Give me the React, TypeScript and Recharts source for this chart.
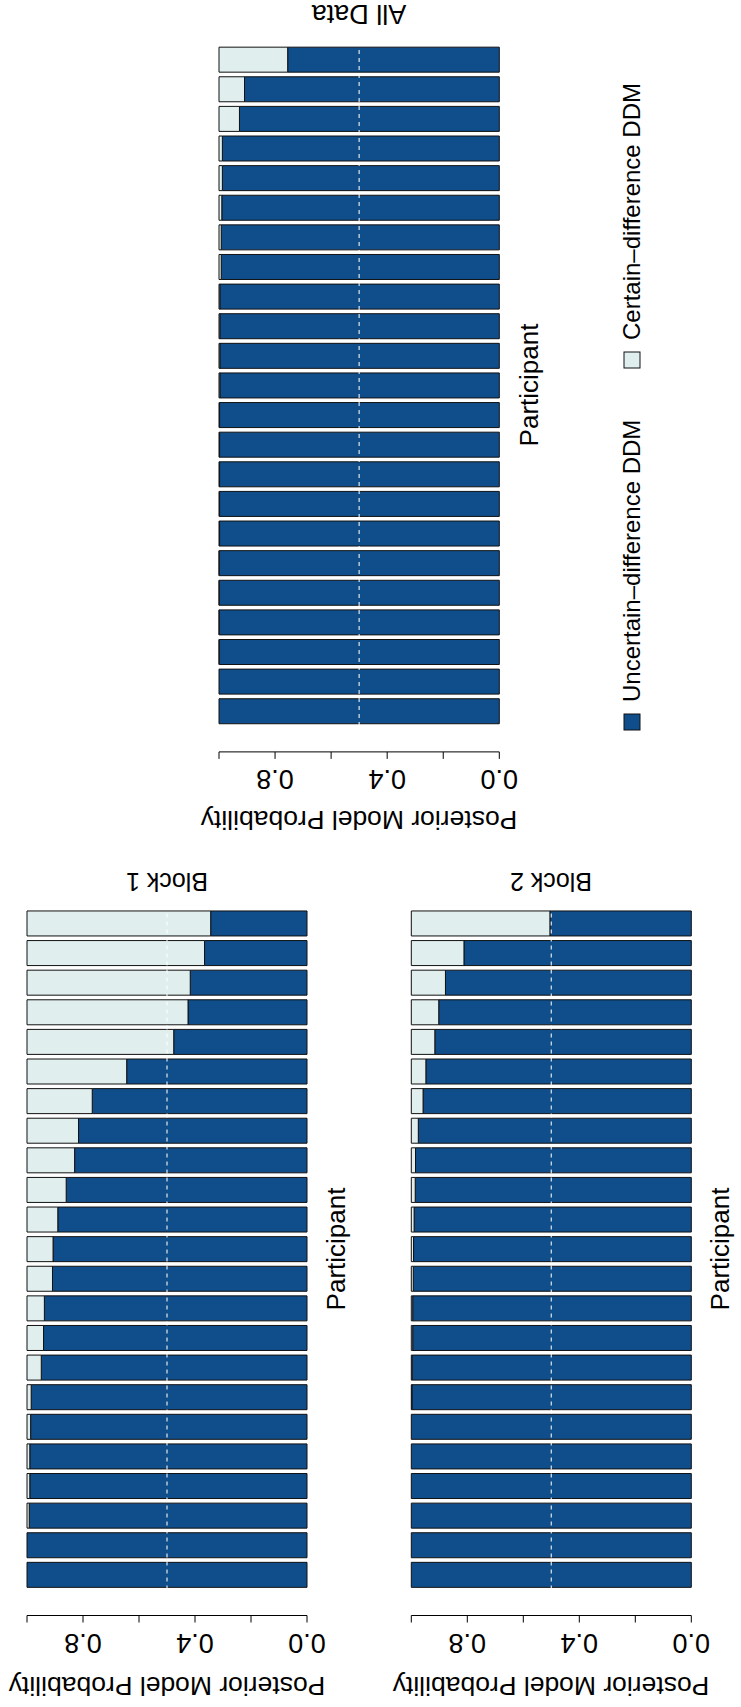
import { BarChart, Bar, XAxis, YAxis, ReferenceLine } from "recharts";

const FONT = '"Liberation Sans", Arial, Helvetica, sans-serif';
const DARK = "#104E8B";
const LIGHT = "#E0EEEE";

// participants, listed top to bottom as drawn
const participants = [
  "1", "2", "3", "4", "5", "6", "7", "8", "9", "10", "11", "12",
  "13", "14", "15", "16", "17", "18", "19", "20", "21", "22", "23",
];

// posterior probability of the uncertain-difference DDM (rest is certain-difference)
const block1Uncertain = [
  0.344, 0.366, 0.417, 0.425, 0.476, 0.644, 0.767, 0.816, 0.83, 0.86, 0.89, 0.907,
  0.909, 0.938, 0.941, 0.949, 0.985, 0.987, 0.99, 0.99, 0.992, 1, 1,
];
const block2Uncertain = [
  0.505, 0.812, 0.878, 0.902, 0.916, 0.948, 0.958, 0.975, 0.985, 0.986, 0.99, 0.992,
  0.993, 0.995, 0.995, 0.997, 0.998, 1, 1, 1, 1, 1, 1,
];
const allDataUncertain = [
  0.755, 0.909, 0.927, 0.988, 0.988, 0.99, 0.992, 0.992, 0.997, 0.997, 0.997, 0.997,
  0.998, 0.998, 0.998, 0.998, 0.998, 0.999, 0.999, 0.999, 0.999, 1, 1,
];

const tickValues = [0, 0.2, 0.4, 0.6, 0.8, 1];
const tickLabels = ["0.0", "", "0.4", "", "0.8", ""];

const seriesNames = ["Uncertain\u2013difference DDM", "Certain\u2013difference DDM"];

function buildRows(values: number[]) {
  return participants.map((p, i) => ({
    participant: p,
    uncertain: values[i],
    certain: +(1 - values[i]).toFixed(4),
  }));
}

function FlippedTick(props: any) {
  const { x, y, payload } = props;
  const label = tickLabels[tickValues.indexOf(payload.value)];
  if (!label) return null;
  return (
    <text
      x={x}
      y={y}
      transform={`rotate(180 ${x} ${y})`}
      textAnchor="middle"
      fontSize={27}
      fontFamily={FONT}
      fill="#000"
    >
      {label}
    </text>
  );
}

type PanelProps = {
  values: number[];
  left: number;
  top: number;
  width: number;
  height: number;
  margin: { top: number; right: number; bottom: number; left: number };
};

function Panel({ values, left, top, width, height, margin }: PanelProps) {
  return (
    <div style={{ position: "absolute", left, top, width, height }}>
      <BarChart
        width={width}
        height={height}
        layout="vertical"
        data={buildRows(values)}
        margin={margin}
        barCategoryGap="8.3%"
      >
        <XAxis
          xAxisId="gap"
          type="number"
          domain={[0, 1]}
          reversed
          height={26}
          tick={false}
          tickLine={false}
          axisLine={false}
        />
        <XAxis
          xAxisId="main"
          type="number"
          domain={[0, 1]}
          reversed
          ticks={tickValues}
          interval={0}
          height={80}
          tickSize={7}
          tickMargin={11}
          tick={FlippedTick}
          tickLine={{ stroke: "#000" }}
          axisLine={{ stroke: "#000" }}
        />
        <YAxis type="category" dataKey="participant" hide />
        <Bar
          xAxisId="main"
          dataKey="uncertain"
          name={seriesNames[0]}
          stackId="p"
          fill={DARK}
          stroke="#111"
          strokeWidth={1}
          isAnimationActive={false}
        />
        <Bar
          xAxisId="main"
          dataKey="certain"
          name={seriesNames[1]}
          stackId="p"
          fill={LIGHT}
          stroke="#111"
          strokeWidth={1}
          isAnimationActive={false}
        />
        <ReferenceLine
          xAxisId="main"
          x={0.5}
          stroke="#ffffff"
          strokeOpacity={0.8}
          strokeWidth={1.3}
          strokeDasharray="4 4"
        />
      </BarChart>
    </div>
  );
}

function Flipped({ x, y, size, children }: any) {
  return (
    <text
      x={x}
      y={y}
      transform={`rotate(180 ${x} ${y})`}
      textAnchor="middle"
      fontSize={size}
      fontFamily={FONT}
      fill="#000"
    >
      {children}
    </text>
  );
}

function Upward({ x, y, size, anchor = "middle", children }: any) {
  return (
    <text
      x={x}
      y={y}
      transform={`rotate(-90 ${x} ${y})`}
      textAnchor={anchor}
      fontSize={size}
      fontFamily={FONT}
      fill="#000"
    >
      {children}
    </text>
  );
}

export default function App() {
  return (
    <div
      style={{
        position: "absolute",
        left: 0,
        top: 0,
        width: 741,
        height: 1707,
        background: "#fff",
        overflow: "hidden",
      }}
    >
      <Panel
        values={allDataUncertain}
        left={190}
        top={0}
        width={400}
        height={860}
        margin={{ top: 44.7, left: 29, right: 90.7, bottom: 28.1 }}
      />
      <Panel
        values={block1Uncertain}
        left={0}
        top={860}
        width={380}
        height={847}
        margin={{ top: 48.5, left: 27, right: 73, bottom: 11.5 }}
      />
      <Panel
        values={block2Uncertain}
        left={380}
        top={860}
        width={361}
        height={847}
        margin={{ top: 48.5, left: 31.3, right: 49.7, bottom: 11.5 }}
      />

      <svg
        width={741}
        height={1707}
        style={{ position: "absolute", left: 0, top: 0, pointerEvents: "none" }}
      >
        <Flipped x={359} y={5} size={27}>All Data</Flipped>
        <Flipped x={167} y={873} size={25}>Block 1</Flipped>
        <Flipped x={551} y={873} size={25}>Block 2</Flipped>

        <Flipped x={359} y={811} size={26.5}>Posterior Model Probability</Flipped>
        <Flipped x={167} y={1677} size={26.5}>Posterior Model Probability</Flipped>
        <Flipped x={551} y={1677} size={26.5}>Posterior Model Probability</Flipped>

        <Upward x={538} y={385} size={26}>Participant</Upward>
        <Upward x={345} y={1249} size={26}>Participant</Upward>
        <Upward x={729} y={1249} size={26}>Participant</Upward>

        <rect x={624} y={714} width={16} height={16} fill={DARK} stroke="#111" strokeWidth={1} />
        <Upward x={640} y={702} size={24} anchor="start">{seriesNames[0]}</Upward>
        <rect x={624} y={352} width={16} height={16} fill={LIGHT} stroke="#111" strokeWidth={1} />
        <Upward x={640} y={340} size={24} anchor="start">{seriesNames[1]}</Upward>
      </svg>
    </div>
  );
}
